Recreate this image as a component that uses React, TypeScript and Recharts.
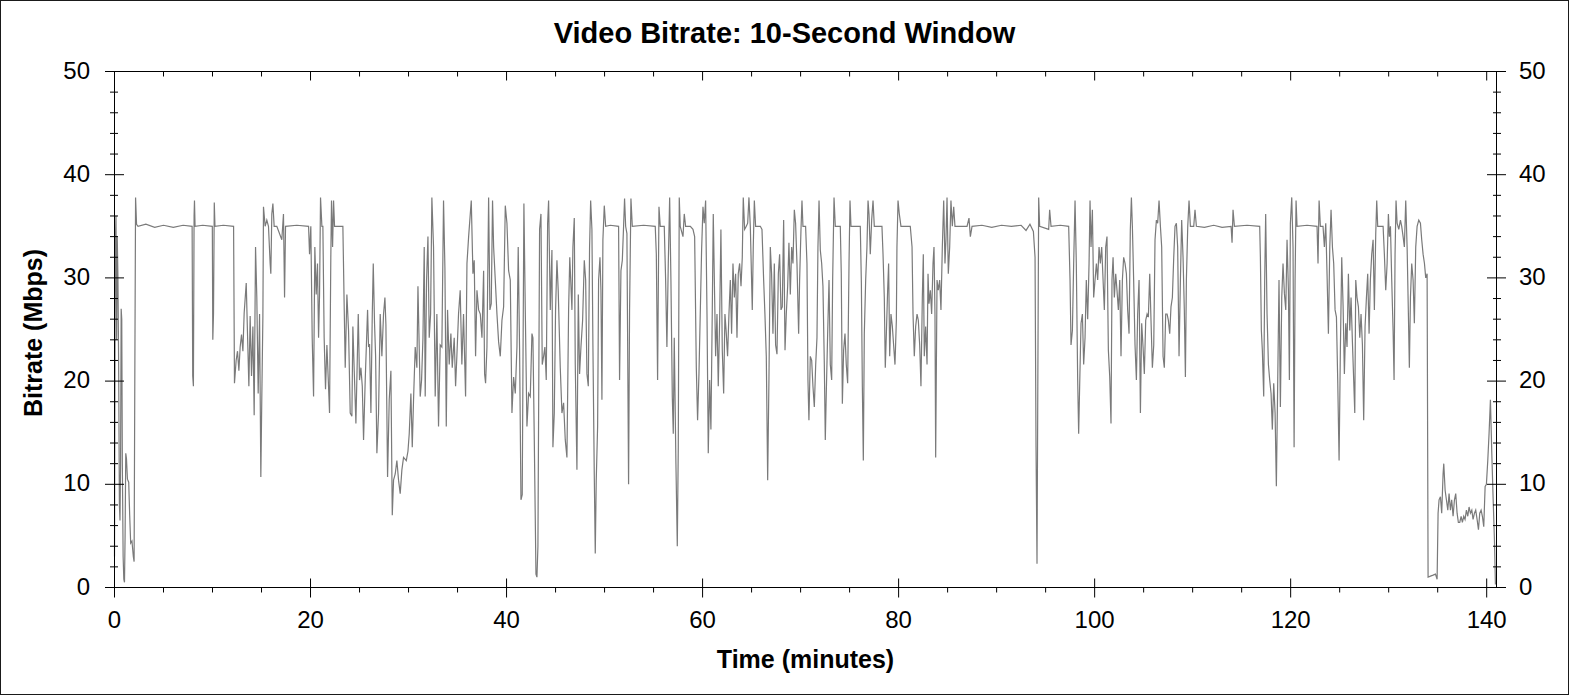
import React from "react";
import { LineChart, Line, XAxis, YAxis, ReferenceLine } from "recharts";

// ---- data (minutes, Mbps) ----
const bitrateSamples: [number, number][] = [
  [0, 3], [0.08, 33], [0.15, 36], [0.22, 24], [0.28, 34], [0.35, 30], [0.42, 22], [0.5, 8], [0.56, 6.5], [0.62, 12],
  [0.68, 27], [0.74, 26], [0.8, 12], [0.88, 3], [0.95, 0.8], [1.02, 0.5], [1.08, 5], [1.15, 13], [1.22, 12.5], [1.32, 10.5],
  [1.45, 10.2], [1.55, 7], [1.65, 4.3], [1.78, 4.5], [1.92, 3], [2.0, 2.5], [2.08, 22], [2.15, 37.8], [2.25, 35.2], [2.4, 35],
  [3.2, 35.2], [4.1, 34.9], [5.0, 35.1], [6.0, 34.9], [7.0, 35.1], [7.92, 35],
  [7.98, 20.5], [8.05, 19.5], [8.12, 36], [8.16, 37.5], [8.22, 35], [9.0, 35.1], [9.98, 35],
  [10.03, 24], [10.1, 26.5], [10.18, 37.3], [10.25, 35], [11.1, 35.1], [12.15, 35],
  [12.24, 19.8], [12.41, 22], [12.55, 22.9], [12.69, 21], [12.82, 23.3], [12.96, 24.5], [13.1, 22.9], [13.23, 26.6], [13.44, 29.5], [13.57, 24.6],
  [13.71, 19.5], [13.84, 26.3], [13.98, 20.5], [14.12, 25.3], [14.25, 16.7], [14.39, 33], [14.52, 28.1], [14.66, 18.8], [14.8, 26.5], [14.93, 10.7],
  [15.03, 18.5], [15.14, 26.3], [15.2, 36.9], [15.37, 35], [15.54, 35.6], [15.71, 35], [15.88, 31.4], [15.95, 30.4], [16.05, 36.2], [16.16, 37.2],
  [16.29, 35], [16.56, 35], [17.07, 33.7], [17.24, 36.2], [17.35, 28.1], [17.45, 35], [18.6, 35.1], [19.8, 35], [19.9, 32.3], [20.03, 35],
  [20.17, 24.2], [20.31, 18.5], [20.44, 33], [20.58, 28.4], [20.71, 31.4], [20.82, 24.2], [20.92, 28.4], [21.02, 37.8], [21.16, 35], [21.26, 35],
  [21.39, 24.2], [21.53, 19.2], [21.67, 23.5], [21.8, 20.4], [21.94, 16.9], [22.07, 32], [22.14, 37.5], [22.25, 33], [22.35, 37.5], [22.45, 35], [23.3, 35],
  [23.44, 26.9], [23.54, 21.3], [23.71, 28.4], [23.88, 24.9], [24.05, 16.9], [24.22, 16.6], [24.32, 25.3], [24.46, 21], [24.63, 15.9], [24.87, 26.5],
  [25.0, 20.1], [25.14, 21.3], [25.28, 19.5], [25.41, 14.3], [25.58, 20.1], [25.82, 26.9], [25.92, 23.3], [26.02, 23.6], [26.16, 16.9], [26.3, 26.5],
  [26.4, 31.4], [26.53, 25.6], [26.64, 22.4], [26.77, 13], [26.94, 16.9], [27.11, 26.5], [27.28, 22.4], [27.45, 26.5], [27.59, 28.1], [27.69, 25.5],
  [27.86, 10.7], [28.03, 18.2], [28.2, 21], [28.34, 7], [28.47, 10.4], [28.64, 11], [28.81, 12.3], [28.98, 10.4], [29.15, 9.1], [29.32, 11.4],
  [29.49, 12.6], [29.77, 12.3], [29.94, 13.2], [30.07, 14.9], [30.24, 18.8], [30.38, 13.6], [30.51, 18.2], [30.68, 23.3], [30.85, 21.3], [30.96, 29.2],
  [31.06, 24.6], [31.19, 18.5], [31.33, 20.1], [31.47, 24.2], [31.6, 33], [31.7, 18.5], [31.84, 29.8], [31.98, 34], [32.11, 24.2], [32.25, 26.5],
  [32.38, 37.8], [32.55, 33], [32.72, 18.5], [32.89, 26.5], [33.06, 15.6], [33.23, 23.5], [33.4, 23.3], [33.57, 37.5], [33.71, 31], [33.85, 15.6],
  [33.98, 26.9], [34.15, 21.6], [34.32, 24.6], [34.46, 21.3], [34.66, 24.2], [34.8, 19.5], [34.93, 22.4], [35.1, 26.5], [35.27, 28.8], [35.44, 21.6],
  [35.61, 26.5], [35.82, 18.5], [35.96, 31.4], [36.13, 34], [36.3, 36.2], [36.4, 37.5], [36.57, 30.4], [36.7, 31.7], [36.84, 22.4], [36.98, 28.8],
  [37.15, 26.9], [37.32, 26.5], [37.49, 24.2], [37.66, 30.7], [37.76, 20.7], [37.86, 19.8], [38.0, 23.3], [38.17, 37.8], [38.3, 26.9], [38.44, 27.5],
  [38.57, 37.5], [38.68, 33], [38.85, 29.8], [39.02, 26.5], [39.19, 23.8], [39.36, 22.4], [39.53, 25.9], [39.7, 27.2], [39.87, 37], [40.04, 35.3],
  [40.21, 30.7], [40.38, 29.8], [40.55, 16.9], [40.72, 20.4], [40.89, 18.8], [41.06, 23.3], [41.19, 33], [41.33, 23], [41.47, 8.5], [41.6, 9],
  [41.77, 37.2], [41.91, 26.9], [42.08, 15.6], [42.25, 18.8], [42.42, 18.5], [42.59, 24.6], [42.69, 24.2], [42.83, 14.3], [43.0, 1.3], [43.1, 1],
  [43.2, 4], [43.37, 34.7], [43.51, 36.2], [43.64, 21.6], [43.78, 22.4], [43.91, 23.3], [44.05, 20.1], [44.19, 35.3], [44.29, 37.5], [44.46, 26.9],
  [44.63, 32.7], [44.73, 13.6], [44.87, 16.9], [45.0, 26.9], [45.14, 31.7], [45.27, 28.8], [45.48, 21.3], [45.65, 16.9], [45.82, 17.9], [45.99, 14.3],
  [46.16, 12.6], [46.33, 26.9], [46.45, 32],
  [46.67, 26.9], [46.77, 33], [46.91, 35.8], [47.01, 21.6], [47.18, 11.4], [47.32, 28.4], [47.45, 20.7], [47.59, 23.3], [47.76, 25.9], [47.93, 31.7],
  [48.07, 29.8], [48.2, 20.7], [48.34, 19.5], [48.47, 33], [48.58, 37.5], [48.71, 34.7], [48.81, 23.5], [48.95, 10.9], [49.05, 3.3], [49.15, 10.4],
  [49.29, 15.6], [49.39, 29.8], [49.53, 32], [49.63, 28.8], [49.73, 18.2], [49.83, 33.7], [49.97, 37], [50.11, 35], [50.58, 35.1], [51.43, 35],
  [51.53, 20.1], [51.67, 30.7], [51.81, 31.7], [51.94, 35], [52.04, 37.7], [52.15, 35], [52.28, 34.3], [52.45, 10], [52.55, 26.9], [52.69, 37.7],
  [52.83, 35], [53.98, 35.1], [55.17, 35], [55.28, 32.3], [55.41, 20.1], [55.55, 36.9], [55.68, 35], [56.09, 35], [56.23, 29.8], [56.36, 23.3],
  [56.5, 31.4], [56.64, 37.8], [56.77, 29.8], [56.91, 18.5], [57.01, 14.9], [57.11, 24.2], [57.28, 12], [57.42, 4], [57.52, 13.6], [57.62, 37.8],
  [57.72, 35], [58.0, 34], [58.13, 36.2], [58.27, 35], [58.75, 35], [59.02, 34.7], [59.19, 34], [59.36, 21.3], [59.49, 16.2], [59.63, 20.7],
  [59.77, 26.9], [59.9, 32.7], [60.04, 36.9], [60.17, 35.3], [60.31, 37.5], [60.45, 26.5], [60.58, 13], [60.72, 20.1], [60.85, 15.3], [60.99, 26.9],
  [61.09, 36.2], [61.23, 28.1], [61.33, 22.4], [61.47, 26.5], [61.6, 19.5], [61.74, 25.9], [61.87, 34.7], [62.01, 23], [62.15, 18.8], [62.28, 26.5],
  [62.42, 24.6], [62.55, 22.4], [62.69, 26.5], [62.83, 29.8], [62.96, 24.6], [63.1, 31.4], [63.24, 28.1], [63.37, 30.4], [63.51, 24.2], [63.64, 30.4],
  [63.78, 31.4], [63.92, 29.2], [64.05, 32], [64.15, 37.8], [64.29, 34.7], [64.46, 35], [64.6, 35.3], [64.73, 37.8], [64.87, 35], [65.07, 26.9],
  [65.17, 33], [65.28, 37.5], [65.41, 35], [65.89, 35], [66.06, 34.7], [66.23, 29.8], [66.36, 26.5], [66.5, 22.4], [66.64, 10.4], [66.77, 20.1],
  [66.91, 33], [67.04, 30.4], [67.18, 24.6], [67.32, 31.4], [67.45, 23.5], [67.59, 22.6], [67.73, 30.4], [67.86, 32.3], [68.0, 26.9], [68.13, 27.2],
  [68.27, 35.6], [68.41, 23], [68.54, 26.5], [68.68, 29.2], [68.81, 33.4], [68.95, 28.4], [69.09, 33], [69.22, 31.4], [69.36, 36.6], [69.49, 35.3],
  [69.63, 31.4], [69.8, 24.6],
  [69.9, 29.8], [70.04, 34.7], [70.14, 37.5], [70.24, 35], [70.51, 35], [70.65, 31.4], [70.75, 20.1], [70.85, 16.2], [70.99, 22.4], [71.13, 22],
  [71.26, 19.5], [71.4, 17.5], [71.54, 21.6], [71.67, 24.2], [71.77, 33], [71.88, 37.5], [72.01, 32.7], [72.15, 31.4], [72.28, 29.2], [72.42, 21.6],
  [72.52, 14.3], [72.62, 18.8], [72.76, 24.6], [72.9, 29.8], [73.03, 21.6], [73.17, 20.1], [73.27, 29.8], [73.41, 37.8], [73.54, 35], [74.05, 35],
  [74.15, 30.4], [74.26, 17.8], [74.39, 23], [74.53, 24.6], [74.66, 21.6], [74.8, 19.8], [74.94, 31.4], [75.04, 37.5], [75.14, 35], [76.09, 35],
  [76.2, 29.5], [76.3, 19.5], [76.4, 12.3], [76.5, 24.6], [76.64, 29.8], [76.77, 33], [76.88, 37.5], [76.98, 36.2], [77.11, 32.3], [77.25, 35.6],
  [77.39, 37.5], [77.52, 35], [78.3, 35], [78.41, 32.3], [78.54, 28.1], [78.64, 21.3], [78.75, 24.6], [78.88, 28.8], [78.98, 31.4], [79.09, 22.4],
  [79.22, 26.5], [79.36, 25.3], [79.49, 23.5], [79.63, 21.6], [79.77, 25.9], [79.83, 33], [79.94, 37.5], [80.07, 36.2], [80.24, 35], [81.19, 35],
  [81.37, 33], [81.47, 26.5], [81.6, 22.4], [81.74, 25.3], [81.88, 26.5], [82.01, 25.9], [82.15, 23.5], [82.28, 19.5], [82.42, 28.1], [82.52, 32.3],
  [82.62, 22.4], [82.76, 25.3], [82.9, 21.6], [83.0, 30.4], [83.1, 27.5], [83.24, 28.8], [83.37, 26.5], [83.51, 31.4], [83.61, 33], [83.71, 26.5],
  [83.78, 12.6], [83.92, 29.8], [84.05, 28.8], [84.19, 29.8], [84.32, 26.9], [84.46, 33], [84.6, 37.5], [84.73, 31.4], [84.83, 33.7], [84.94, 37.8],
  [85.07, 30.4], [85.21, 33], [85.34, 37.5], [85.48, 35], [85.62, 36.9], [85.75, 35], [86.98, 35], [87.18, 35.8], [87.32, 34], [87.49, 35],
  [88.5, 35.1], [89.5, 34.9], [90.5, 35.1], [91.5, 35], [92.5, 35.1], [93.0, 34.6], [93.4, 35.2], [93.75, 34.5],
  [93.92, 32], [94.02, 13.6], [94.12, 2.3], [94.19, 16.9], [94.29, 37.8], [94.39, 35], [95.31, 34.7], [95.41, 36.6], [95.55, 35], [96.5, 35.1],
  [97.35, 35], [97.49, 29.8], [97.59, 23.5], [97.73, 24.9], [97.86, 31.4], [98.0, 37.5], [98.13, 31.4], [98.27, 20.1], [98.37, 14.9], [98.47, 19.5],
  [98.61, 25.6], [98.75, 26.5], [98.88, 21.6], [99.02, 24.2], [99.15, 29.8], [99.29, 26], [99.43, 31.4], [99.53, 37.5], [99.63, 33], [99.77, 36.6],
  [99.9, 28.1], [100.04, 29.8], [100.18, 31.4], [100.31, 29.8], [100.45, 33], [100.58, 31.4], [100.72, 33], [100.86, 29.8], [100.99, 26.9], [101.13, 33],
  [101.26, 34], [101.4, 23], [101.54, 20.4], [101.67, 15.9], [101.77, 29.8], [101.88, 32], [102.01, 28.1], [102.15, 30.4], [102.28, 28.8], [102.42, 26.9],
  [102.56, 29.8], [102.69, 22.4], [102.83, 29.8], [102.96, 32], [103.1, 31.4], [103.24, 30.4], [103.37, 26.9], [103.51, 24.6], [103.64, 34.7], [103.75, 37.8],
  [103.85, 35], [103.98, 29.8], [104.12, 23.5], [104.26, 20.1], [104.39, 26.5], [104.53, 29.8], [104.67, 16.9], [104.8, 25.6], [104.94, 23.3], [105.07, 20.7],
  [105.21, 25.9], [105.35, 26.5], [105.48, 26.2], [105.62, 30.4], [105.75, 25.9], [105.89, 21.3], [106.03, 23.5], [106.16, 33.7], [106.3, 35.6], [106.43, 35.3],
  [106.57, 37.5], [106.71, 35], [106.84, 33], [106.98, 22.4], [107.11, 21.3], [107.25, 26.5], [107.39, 26.5], [107.52, 25.9], [107.66, 24.6], [107.79, 27.2],
  [107.93, 28.1], [108.07, 32], [108.2, 35], [108.34, 35.3], [108.47, 33], [108.61, 22.4], [108.75, 29.8], [108.88, 35.6], [109.02, 32], [109.15, 26.9],
  [109.26, 20.4], [109.36, 29.8], [109.5, 35], [109.63, 37.5], [109.77, 35], [110.11, 35], [110.24, 36.6], [110.38, 35], [111.2, 34.9], [112.15, 35.1],
  [113.0, 34.9], [113.92, 35], [114.02, 33.4], [114.12, 36.6], [114.26, 35], [115.55, 35.1], [116.84, 35],
  [116.91, 32], [117.01, 24.9], [117.11, 23], [117.25, 18.5], [117.35, 29.8], [117.45, 36.2], [117.59, 26.5], [117.73, 21.6], [117.86, 20.1], [118.0, 18.8],
  [118.13, 15.3], [118.27, 19.8], [118.41, 16.9], [118.54, 9.8], [118.68, 20.1], [118.81, 29.8], [118.95, 17.5], [119.09, 28.1], [119.22, 31.4], [119.36, 28.5],
  [119.5, 26.9], [119.63, 33.7], [119.77, 28.8], [119.87, 20.1], [119.97, 35.3], [120.11, 37.8], [120.24, 33], [120.35, 13.6], [120.45, 29.8], [120.55, 37.5],
  [120.65, 35], [121.67, 35.1], [122.69, 35], [122.79, 31.4], [122.9, 37.5], [123.03, 35], [123.3, 35], [123.44, 33], [123.58, 35.3], [123.71, 30.4],
  [123.85, 24.6], [123.99, 33], [124.12, 36.6], [124.26, 33], [124.39, 31.4], [124.53, 26.9], [124.67, 26.2], [124.8, 20.1], [124.94, 12.3], [125.07, 23],
  [125.21, 32], [125.35, 27.2], [125.48, 20.7], [125.62, 25.6], [125.75, 23.3], [125.89, 30.4], [126.03, 24.9], [126.16, 28.1], [126.3, 23.8], [126.43, 20.1],
  [126.54, 16.9], [126.64, 29.8], [126.77, 28.1], [126.91, 27.2], [127.05, 24.2], [127.18, 26.5], [127.32, 23.5], [127.45, 16.2], [127.59, 25.3], [127.73, 28.1],
  [127.86, 30.4], [128.0, 24.6], [128.13, 29.8], [128.27, 32.3], [128.41, 33.7], [128.54, 26.9], [128.68, 34.3], [128.78, 37.5], [128.88, 35], [129.43, 35],
  [129.56, 32.3], [129.7, 28.8], [129.84, 31.4], [129.97, 36.2], [130.07, 34], [130.18, 35], [130.31, 29.8], [130.45, 24.9], [130.55, 20.1], [130.65, 32.3],
  [130.75, 37.5], [130.86, 35.3], [131.03, 34.7], [131.2, 35.6], [131.33, 35], [131.47, 34], [131.6, 33], [131.74, 37.5], [131.88, 33], [132.01, 26.5],
  [132.11, 21.3], [132.22, 28.1], [132.35, 31.4], [132.49, 29.8], [132.62, 25.6], [132.76, 33], [132.9, 35], [133.07, 35.6], [133.24, 35.3], [133.37, 33.7],
  [133.51, 32.3], [133.65, 31.4], [133.78, 30], [133.92, 30.4], [134.02, 1], [134.26, 1.1], [134.53, 1.2], [134.77, 1.3], [134.94, 0.8], [135.04, 7.2],
  [135.14, 8.5], [135.28, 8.8], [135.41, 7.2], [135.55, 11], [135.62, 12], [135.76, 9.4], [135.89, 8.5], [136.03, 7.5], [136.16, 9.1], [136.3, 7.5],
  [136.43, 8.5], [136.57, 6.9], [136.71, 8.5], [136.84, 9.1], [136.98, 7.2], [137.11, 6.3], [137.25, 6.3], [137.39, 6.9], [137.52, 6.3], [137.66, 6.9],
  [137.79, 6.6], [137.93, 7.5], [138.07, 6.9], [138.2, 7.8], [138.34, 7.2], [138.48, 7.5], [138.61, 6.6], [138.75, 7.2], [138.88, 7.5], [139.02, 6.6],
  [139.16, 5.6], [139.29, 7.2], [139.43, 7.5], [139.56, 6.9], [139.7, 5.9], [139.84, 9.8], [139.97, 10], [140.11, 12.3], [140.24, 14.9], [140.38, 18.2],
  [140.52, 13], [140.65, 8.8], [140.79, 4.6], [140.89, 0.3],
];

const xTicks = [0, 5, 10, 15, 20, 25, 30, 35, 40, 45, 50, 55, 60, 65, 70, 75, 80, 85, 90, 95, 100, 105, 110, 115, 120, 125, 130, 135, 140];
const xLabelTicks = [0, 20, 40, 60, 80, 100, 120, 140];
const yTicks = [0, 2, 4, 6, 8, 10, 12, 14, 16, 18, 20, 22, 24, 26, 28, 30, 32, 34, 36, 38, 40, 42, 44, 46, 48, 50];
const yLabelTicks = [0, 10, 20, 30, 40, 50];

const chartData = bitrateSamples.map(([t, mbps]) => ({ t, mbps }));

// ---- layout ----
const W = 1570;
const H = 695;
const PLOT_LEFT = 114.5;
const PLOT_RIGHT = 1496.5;
const PLOT_TOP = 71.5;
const PLOT_BOTTOM = 587.5;
const FONT = '"Liberation Sans", Arial, sans-serif';
const INK = "#000";

// bottom axis tick also draws the matching tick on the top frame
function XTick({ x, payload }: any) {
  const major = xLabelTicks.includes(payload.value);
  return (
    <g>
      <line x1={x} x2={x} y1={major ? PLOT_BOTTOM - 9 : PLOT_BOTTOM} y2={PLOT_BOTTOM + (major ? 10 : 5)} stroke={INK} />
      <line x1={x} x2={x} y1={PLOT_TOP} y2={PLOT_TOP + (major ? 9 : 5)} stroke={INK} />
      {major && (
        <text x={x} y={628} textAnchor="middle" fontFamily={FONT} fontSize={24} fill={INK}>
          {payload.value}
        </text>
      )}
    </g>
  );
}

// left axis tick also draws the mirrored tick and label on the right axis
function YTick({ y, payload }: any) {
  const major = yLabelTicks.includes(payload.value);
  return (
    <g>
      <line x1={major ? PLOT_LEFT - 9.5 : PLOT_LEFT - 4.5} x2={major ? PLOT_LEFT + 9.5 : PLOT_LEFT + 3.5} y1={y} y2={y} stroke={INK} />
      <line x1={major ? PLOT_RIGHT - 9.5 : PLOT_RIGHT - 3.5} x2={major ? PLOT_RIGHT + 9.5 : PLOT_RIGHT + 4.5} y1={y} y2={y} stroke={INK} />
      {major && (
        <>
          <text x={90} y={y + 7} textAnchor="end" fontFamily={FONT} fontSize={24} fill={INK}>
            {payload.value}
          </text>
          <text x={1519} y={y + 7} textAnchor="start" fontFamily={FONT} fontSize={24} fill={INK}>
            {payload.value}
          </text>
        </>
      )}
    </g>
  );
}

export default function App() {
  return (
    <div style={{ position: "relative", width: W, height: H, background: "#fff" }}>
      <style>{"body{margin:0;background:#fff}"}</style>
      <LineChart
        width={W}
        height={H}
        data={chartData}
        margin={{ top: PLOT_TOP, right: 0, bottom: 0, left: 0 }}
      >
        <XAxis
          dataKey="t"
          type="number"
          domain={[0, 141]}
          ticks={xTicks}
          interval={0}
          height={H - PLOT_BOTTOM}
          axisLine={{ stroke: INK }}
          tickLine={false}
          tick={XTick}
        />
        <YAxis
          yAxisId="left"
          type="number"
          domain={[0, 50]}
          ticks={yTicks}
          interval={0}
          width={PLOT_LEFT}
          axisLine={{ stroke: INK }}
          tickLine={false}
          tick={YTick}
        />
        <YAxis
          yAxisId="right"
          orientation="right"
          type="number"
          domain={[0, 50]}
          width={W - PLOT_RIGHT}
          axisLine={{ stroke: INK }}
          tickLine={false}
          tick={false}
        />
        <ReferenceLine yAxisId="left" y={50} stroke={INK} />
        <Line
          yAxisId="left"
          dataKey="mbps"
          type="linear"
          stroke="#7a7a7a"
          strokeWidth={1.2}
          dot={false}
          activeDot={false}
          isAnimationActive={false}
        />
      </LineChart>
      <svg width={W} height={H} style={{ position: "absolute", left: 0, top: 0, pointerEvents: "none" }}>
        <rect x={0.5} y={0.5} width={W - 2} height={H - 1} fill="none" stroke="#1a1a1a" />
        <text x={784.5} y={43} textAnchor="middle" fontFamily={FONT} fontSize={29} fontWeight="bold" fill={INK}>
          Video Bitrate: 10-Second Window
        </text>
        <text x={805.5} y={668} textAnchor="middle" fontFamily={FONT} fontSize={25} fontWeight="bold" fill={INK}>
          Time (minutes)
        </text>
        <text
          x={41.5}
          y={333}
          textAnchor="middle"
          fontFamily={FONT}
          fontSize={25}
          fontWeight="bold"
          fill={INK}
          transform="rotate(-90 41.5 333)"
        >
          Bitrate (Mbps)
        </text>
      </svg>
    </div>
  );
}
